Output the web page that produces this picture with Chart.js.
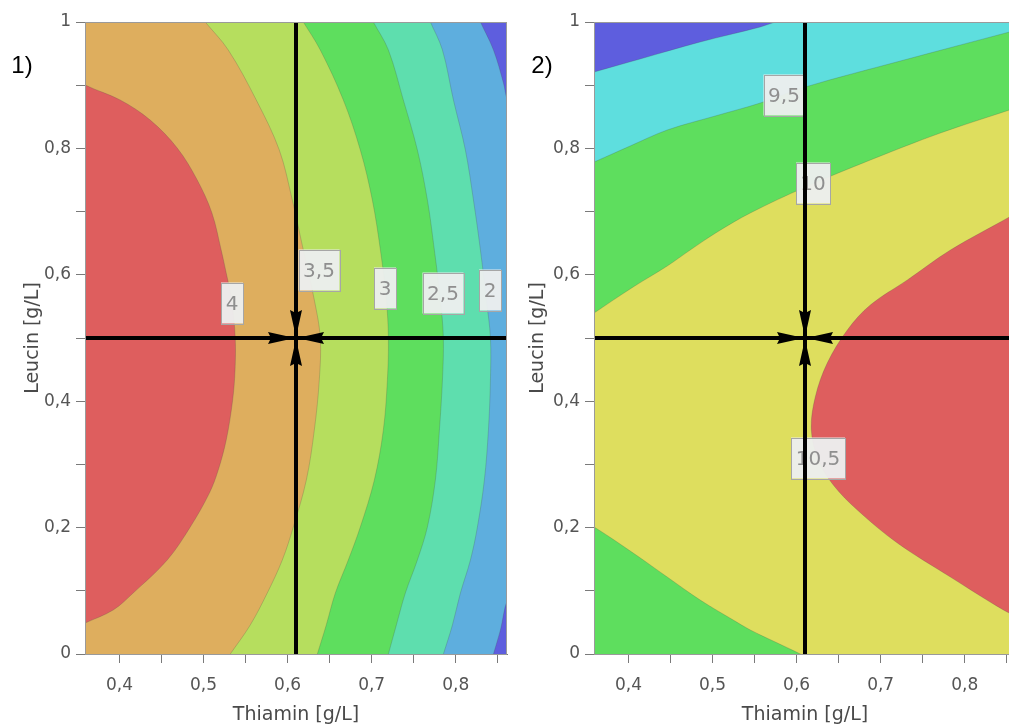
<!DOCTYPE html>
<html>
<head>
<meta charset="utf-8">
<script src="https://cdn.jsdelivr.net/npm/chart.js@4.4.1/dist/chart.umd.min.js"></script>
<style>
  html, body { margin: 0; padding: 0; background: #fff; overflow: hidden; width: 1009px; height: 726px; }
  canvas { position: absolute; top: 0; }
  #chart1 { left: 0; }
  #chart2 { left: 510px; }
</style>
</head>
<body>
<canvas id="chart1" width="520" height="726"></canvas>
<canvas id="chart2" width="520" height="726"></canvas>
<script>
// Axes

const X_MIN = 0.359;
const X_MAX = 0.861;
const thiaminTicks = [0.4, 0.45, 0.5, 0.55, 0.6, 0.65, 0.7, 0.75, 0.8, 0.85];
const thiaminLabels = ["0,4", "", "0,5", "", "0,6", "", "0,7", "", "0,8", ""];
const leucinTicks = [0, 0.1, 0.2, 0.3, 0.4, 0.5, 0.6, 0.7, 0.8, 0.9, 1];
const leucinLabels = ["0", "", "0,2", "", "0,4", "", "0,6", "", "0,8", "", "1"];

// Optimum (cross)

const optThiamin = 0.61;
const optLeucin = 0.5;

// Panel 1 contour lines, [thiamin, leucin], top to bottom

const p1Level15 = [[0.826, 1.01], [0.8294, 1], [0.8449, 0.9557], [0.8568, 0.9035], [0.8615, 0.8766], [0.875, 0.84],
  [0.875, 0.11], [0.8615, 0.0854], [0.8532, 0.038], [0.8449, 0], [0.843, -0.01]];
const p1Level2 = [[0.7699, 1], [0.7842, 0.9557], [0.7973, 0.8766], [0.8115, 0.7975], [0.8211, 0.7184], [0.8294, 0.6392],
  [0.8365, 0.5601], [0.8413, 0.5], [0.8413, 0.4335], [0.8389, 0.3544], [0.8341, 0.2753], [0.8258, 0.2009],
  [0.8175, 0.1487], [0.8056, 0.0965], [0.7961, 0.0459], [0.7854, 0]];
const p1Level25 = [[0.702, 1], [0.7199, 0.9557], [0.7377, 0.8766], [0.7544, 0.7975], [0.7663, 0.7184], [0.7746, 0.6392],
  [0.7818, 0.5601], [0.7853, 0.5], [0.7842, 0.4335], [0.7806, 0.3544], [0.7758, 0.2753], [0.7663, 0.2009],
  [0.7544, 0.1487], [0.7401, 0.0965], [0.7294, 0.0459], [0.7199, 0]];
const p1Level3 = [[0.6187, 1], [0.6389, 0.9557], [0.6663, 0.8766], [0.6865, 0.7975], [0.7008, 0.7184], [0.7104, 0.6392],
  [0.7175, 0.5601], [0.7199, 0.5], [0.7187, 0.4335], [0.7139, 0.3544], [0.7032, 0.2753], [0.6865, 0.2009],
  [0.6722, 0.1487], [0.6568, 0.0965], [0.646, 0.0459], [0.6354, 0]];
const p1Level35 = [[0.502, 1], [0.5294, 0.9557], [0.5627, 0.8766], [0.5901, 0.7975], [0.6056, 0.7184], [0.6187, 0.6392],
  [0.6318, 0.5601], [0.6389, 0.5], [0.6377, 0.4335], [0.6318, 0.3544], [0.6223, 0.2753], [0.6068, 0.2009],
  [0.5937, 0.1487], [0.5758, 0.0965], [0.5556, 0.0459], [0.5318, 0]];
const p1Level4 = [[0.35, 0.91], [0.3592, 0.9003], [0.4008, 0.8766], [0.4365, 0.8449], [0.4687, 0.8006], [0.4925, 0.75],
  [0.51, 0.6978], [0.521, 0.6392], [0.527, 0.6028], [0.5335, 0.5601], [0.5377, 0.5], [0.5375, 0.4494],
  [0.5345, 0.4003], [0.527, 0.3386], [0.5175, 0.2911], [0.507, 0.2547], [0.4842, 0.2009], [0.4568, 0.1487],
  [0.4163, 0.0965], [0.3925, 0.0696], [0.3592, 0.0491], [0.35, 0.044]];

const p1Base = "#5e5ede";
const p1Colors = ["#5eaede", "#5edeae", "#5ede5e", "#b6de5e", "#deae5e", "#de5e5e"];
const p1LabelText = ["4", "3,5", "3", "2,5", "2"];
const p1LabelX = [0.534, 0.637, 0.716, 0.785, 0.841];
const p1LabelY = [0.555, 0.608, 0.579, 0.571, 0.576];

// Panel 2 contour lines, [thiamin, leucin], left to right

const p2Level10Top = [[0.35, 0.5307], [0.3592, 0.5396], [0.4056, 0.5807], [0.4461, 0.6139], [0.4734, 0.6392],
  [0.5056, 0.6677], [0.5449, 0.6978], [0.6104, 0.7389], [0.6877, 0.7816], [0.7711, 0.8244], [0.8532, 0.8608], [0.8663, 0.8671]];
const p2Level95 = [[0.35, 0.7735], [0.3592, 0.7785], [0.402, 0.8038], [0.4461, 0.8291], [0.5032, 0.8513],
  [0.5568, 0.8718], [0.6104, 0.8972], [0.7235, 0.9383], [0.8532, 0.9842], [0.8663, 0.9889]];
const p2Level9 = [[0.35, 0.917], [0.3592, 0.9209], [0.4139, 0.9415], [0.4853, 0.9684], [0.5568, 0.9921],
  [0.5746, 1.0], [0.5925, 1.0063]];
const p2Level105 = [[0.8663, 0.7025], [0.8532, 0.6915], [0.783, 0.6392], [0.7318, 0.5918], [0.6877, 0.5522],
  [0.6604, 0.5127], [0.6365, 0.4604], [0.6222, 0.4066], [0.6175, 0.3544], [0.6258, 0.307], [0.6437, 0.2674],
  [0.6723, 0.2278], [0.7199, 0.1756], [0.783, 0.1218], [0.8461, 0.0696], [0.8663, 0.057]];
const p2Level10Bottom = [[0.35, 0.206], [0.3592, 0.2009], [0.4056, 0.1598], [0.4461, 0.1218], [0.4853, 0.0854],
  [0.5246, 0.0538], [0.5449, 0.038], [0.5746, 0.019], [0.6044, 0], [0.61, -0.005]];

const p2Base = "#dede5e";
const p2Colors = ["#5ede5e", "#5edede", "#5e5ede", "#de5e5e", "#5ede5e"];
const p2LabelText = ["9,5", "10", "10,5"];
const p2LabelX = [0.585, 0.619, 0.625];
const p2LabelY = [0.884, 0.745, 0.31];

// Region helpers: a contour line is continued a little past its ends, then
// closed through points outside the plot area

function toPts(c) {
  const n = c.length;
  const first = { x: 2 * c[0][0] - c[1][0], y: 2 * c[0][1] - c[1][1] };
  const last = { x: 2 * c[n - 1][0] - c[n - 2][0], y: 2 * c[n - 1][1] - c[n - 2][1] };
  return [first].concat(c.map(([x, y]) => ({ x: x, y: y })), [last]);
}
const leftOf = c => toPts(c).concat([{ x: X_MIN - 0.08, y: -0.1 }, { x: X_MIN - 0.08, y: 1.1 }]);
const above = c => toPts(c).concat([{ x: X_MAX + 0.08, y: 1.1 }, { x: X_MIN - 0.08, y: 1.1 }]);
const belowLeft = c => toPts(c).concat([{ x: X_MIN - 0.08, y: -0.1 }]);
const rightOf = c => {
  const p = toPts(c);
  return p.concat([{ x: X_MAX + 0.08, y: p[p.length - 1].y }, { x: X_MAX + 0.08, y: p[0].y }]);
};

function regionSets(shapes, colors) {
  return shapes.map((pts, i) => ({
    data: pts,
    showLine: true,
    fill: "shape",
    backgroundColor: colors[i],
    borderColor: "rgba(70,70,70,0.22)",
    borderWidth: 1,
    pointRadius: 0,
    tension: 0.35,
    capBezierPoints: false,
    clip: 0,
    order: 100 - i,
  }));
}

function crossSets() {
  const line = {
    showLine: true,
    fill: false,
    borderColor: "#000",
    borderWidth: 4,
    pointRadius: 0,
    order: 0,
  };
  return [
    Object.assign({ data: [{ x: optThiamin, y: 0 }, { x: optThiamin, y: 1 }] }, line),
    Object.assign({ data: [{ x: X_MIN, y: optLeucin }, { x: X_MAX, y: optLeucin }] }, line),
  ];
}

// Plugin: background, contour labels, arrows, frame, panel tag

const overlay = {
  id: "overlay",
  beforeDatasetsDraw(chart, args, opts) {
    const { ctx, chartArea: a } = chart;
    ctx.save();
    ctx.fillStyle = opts.base;
    ctx.fillRect(a.left, a.top, a.right - a.left, a.bottom - a.top);
    ctx.restore();
  },
  afterDatasetDraw(chart, args, opts) {
    if (args.index !== opts.labelsAfter) return;
    const { ctx, scales: { x, y } } = chart;
    ctx.save();
    ctx.font = '20px "DejaVu Sans"';
    ctx.textAlign = "center";
    ctx.textBaseline = "middle";
    opts.text.forEach((t, i) => {
      const px = Math.round(x.getPixelForValue(opts.lx[i]));
      const py = Math.round(y.getPixelForValue(opts.ly[i]));
      const w = Math.round(ctx.measureText(t).width + 9);
      const h = 41;
      ctx.fillStyle = "rgba(236,238,238,0.96)";
      ctx.fillRect(px - w / 2, py - h / 2, w, h);
      ctx.strokeStyle = "#a6a6a6";
      ctx.lineWidth = 1;
      ctx.strokeRect(Math.round(px - w / 2) + 0.5, Math.round(py - h / 2) + 0.5, w, h);
      ctx.fillStyle = "#8f8f8f";
      ctx.fillText(t, px, py + 2);
    });
    ctx.restore();
  },
  afterDatasetsDraw(chart, args, opts) {
    const { ctx, chartArea: a, scales: { x, y } } = chart;
    const cx = x.getPixelForValue(optThiamin);
    const cy = y.getPixelForValue(optLeucin);
    ctx.save();
    ctx.fillStyle = "#000";
    [[-1, 0], [1, 0], [0, -1], [0, 1]].forEach(([dx, dy]) => {
      const bx = cx + dx * 28, by = cy + dy * 28;
      const nx = -dy, ny = dx;
      ctx.beginPath();
      ctx.moveTo(cx + dx, cy + dy);
      ctx.lineTo(bx + nx * 6, by + ny * 6);
      ctx.lineTo(cx + dx * 25, cy + dy * 25);
      ctx.lineTo(bx - nx * 6, by - ny * 6);
      ctx.closePath();
      ctx.fill();
    });
    ctx.strokeStyle = "#9a9a9a";
    ctx.lineWidth = 1;
    ctx.strokeRect(a.left + 0.5, a.top + 0.5, a.right - a.left - 1, a.bottom - a.top);
    ctx.restore();
  },
  afterDraw(chart, args, opts) {
    const ctx = chart.ctx;
    ctx.save();
    ctx.font = '24px "Liberation Sans"';
    ctx.fillStyle = "#000";
    ctx.textAlign = "center";
    ctx.textBaseline = "middle";
    ctx.fillText(opts.tag, opts.tagX, opts.tagY);
    ctx.restore();
  },
};

function makeChart(id, datasets, opts, yWidth, rightPad, yTitlePad) {
  const tickFont = { family: "DejaVu Sans", size: 17 };
  const titleFont = { family: "DejaVu Sans", size: 19 };
  return new Chart(document.getElementById(id), {
    type: "scatter",
    data: { datasets: datasets },
    options: {
      responsive: false,
      animation: false,
      devicePixelRatio: 1,
      layout: { padding: { top: 22, right: rightPad, left: 0, bottom: 0 } },
      plugins: {
        legend: { display: false },
        tooltip: { enabled: false },
        overlay: opts,
      },
      scales: {
        x: {
          type: "linear",
          min: X_MIN,
          max: X_MAX,
          afterBuildTicks: s => { s.ticks = thiaminTicks.map(v => ({ value: v })); },
          afterFit: s => { s.height = 72; },
          grid: { drawOnChartArea: false, tickLength: 9, color: "#7a7a7a" },
          border: { color: "#7a7a7a" },
          ticks: {
            callback: (v, i) => thiaminLabels[i],
            autoSkip: false,
            maxRotation: 0,
            padding: 12,
            color: "#555",
            font: tickFont,
          },
          title: { display: true, text: "Thiamin [g/L]", color: "#4a4a4a", font: titleFont, padding: { top: 0, bottom: 0 } },
        },
        y: {
          type: "linear",
          min: 0,
          max: 1,
          afterBuildTicks: s => { s.ticks = leucinTicks.map(v => ({ value: v })); },
          afterFit: s => { s.width = yWidth; },
          grid: { drawOnChartArea: false, tickLength: 9, color: "#7a7a7a" },
          border: { color: "#7a7a7a" },
          ticks: {
            callback: (v, i) => leucinLabels[i],
            autoSkip: false,
            padding: 5,
            color: "#555",
            font: tickFont,
          },
          title: { display: true, text: "Leucin [g/L]", color: "#4a4a4a", font: titleFont, padding: { top: yTitlePad, bottom: 0 } },
        },
      },
    },
    plugins: [overlay],
  });
}

// Panel 1

const p1Shapes = [p1Level15, p1Level2, p1Level25, p1Level3, p1Level35, p1Level4].map(leftOf);
const p1Sets = regionSets(p1Shapes, p1Colors).concat(crossSets());
makeChart("chart1", p1Sets, {
  base: p1Base, text: p1LabelText, lx: p1LabelX, ly: p1LabelY,
  labelsAfter: p1Shapes.length - 1, tag: "1)", tagX: 22, tagY: 66,
}, 85, 13, 21.6);

// Panel 2

const p2Shapes = [above(p2Level10Top), above(p2Level95), above(p2Level9), rightOf(p2Level105), belowLeft(p2Level10Bottom)];
const p2Sets = regionSets(p2Shapes, p2Colors).concat(crossSets());
makeChart("chart2", p2Sets, {
  base: p2Base, text: p2LabelText, lx: p2LabelX, ly: p2LabelY,
  labelsAfter: p2Shapes.length - 1, tag: "2)", tagX: 32, tagY: 66,
}, 84, 14, 16.6);
</script>
</body>
</html>
